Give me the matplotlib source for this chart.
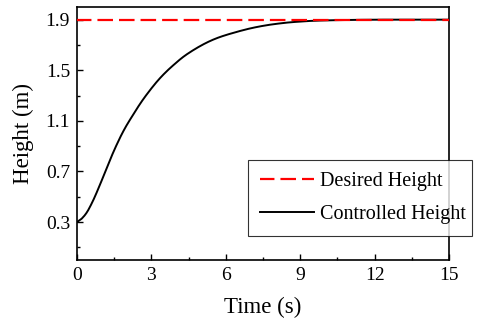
import numpy as np
import matplotlib.pyplot as plt
from matplotlib.ticker import MultipleLocator

# values
t = [0.0, 0.30, 0.57, 0.84, 1.11, 1.38, 1.65, 1.92, 2.25, 2.59, 2.93, 3.26, 3.60, 3.94, 4.27,
     4.61, 4.95, 5.28, 5.62, 5.96, 6.29, 6.60, 6.96, 7.35, 7.77, 8.20, 8.58, 9.00, 9.39, 9.80,
     10.2, 11.0, 12.0, 13.0, 14.0, 15.0]
h = [0.300, 0.342, 0.434, 0.553, 0.684, 0.816, 0.934, 1.040, 1.145, 1.250, 1.340, 1.420, 1.490,
     1.550, 1.605, 1.650, 1.690, 1.724, 1.753, 1.776, 1.795, 1.812, 1.830, 1.846, 1.860, 1.871,
     1.879, 1.885, 1.890, 1.893, 1.895, 1.898, 1.900, 1.900, 1.900, 1.900]
desired = 1.9
t_end = 15

plt.rcParams['font.family'] = ['Liberation Serif', 'DejaVu Serif']

fig = plt.figure(figsize=(4.81, 3.24), dpi=100)
ax = fig.add_axes([77 / 481, 1 - 260 / 324, 372 / 481, 253 / 324])

# smooth the read points for drawing
ts = np.linspace(0, t_end, 400)
hs = np.interp(ts, t, h)
k = np.ones(9) / 9
hs_s = np.convolve(np.pad(hs, 4, mode='edge'), k, mode='valid')
hs_s[:6] = hs[:6]

ax.plot([0, t_end], [desired, desired], color='red', lw=1.6, ls=(0.5, (7, 2.7)),
        label='Desired Height', zorder=3)
ax.plot(ts, hs_s, color='black', lw=1.4, label='Controlled Height', zorder=2)

ax.set_xlim(0, 15)
ax.set_ylim(0, 2.0)
ax.set_xticks([0, 3, 6, 9, 12, 15])
ax.set_yticks([0.3, 0.7, 1.1, 1.5, 1.9])
ax.xaxis.set_minor_locator(MultipleLocator(1.5))
ax.set_yticks([0.1, 0.5, 0.9, 1.3, 1.7], minor=True)
ax.tick_params(which='both', direction='in', labelsize=14, width=1)
ax.tick_params(which='major', length=4, pad=5)
ax.tick_params(which='minor', length=2.5)
for s in ax.spines.values():
    s.set_linewidth(1.2)

ax.set_xlabel('Time (s)', fontsize=16.5, labelpad=9)
ax.set_ylabel('Height (m)', fontsize=16.5, labelpad=8)

leg = ax.legend(loc='lower left', bbox_to_anchor=(171 / 372, 24 / 253, 224 / 372, 80 / 253),
                mode='expand', fontsize=14.5, frameon=True, fancybox=False, edgecolor='black',
                handlelength=2.7, handletextpad=0.3, borderaxespad=0, labelspacing=0.7,
                borderpad=0.6)
leg.get_frame().set_linewidth(0.8)

fig.savefig('out.png', dpi=100)
